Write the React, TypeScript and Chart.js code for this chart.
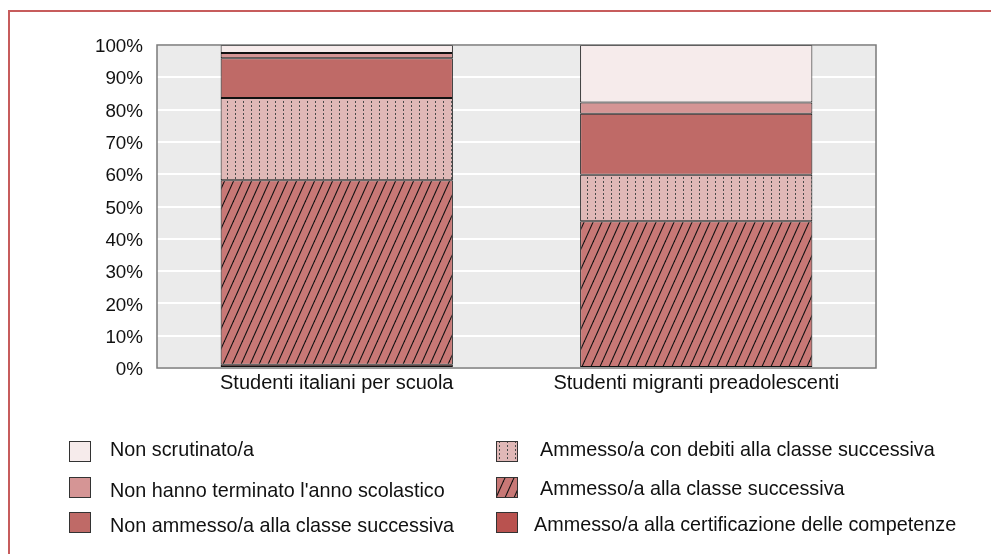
import React, { useEffect, useRef } from "react";
import { Chart, registerables } from "chart.js";

Chart.register(...registerables);

const categories = ["Studenti italiani per scuola", "Studenti migranti preadolescenti"];
const seriesLabels = [
  "Ammesso/a alla certificazione delle competenze",
  "Ammesso/a alla classe successiva",
  "Ammesso/a con debiti alla classe successiva",
  "Non ammesso/a alla classe successiva",
  "Non hanno terminato l'anno scolastico",
  "Non scrutinato/a",
];
const certificazione = [1.0, 0];
const ammesso = [57.1, 45.4];
const debiti = [25.5, 14.4];
const nonAmmesso = [12.3, 18.9];
const nonTerminato = [1.6, 3.5];
const nonScrutinato = [2.5, 17.8];
const yTicks = [0, 10, 20, 30, 40, 50, 60, 70, 80, 90, 100];

const FONT = "'Liberation Sans', Arial, Helvetica, sans-serif";

function hatchPattern(ctx: CanvasRenderingContext2D, bg: string) {
  const c = document.createElement("canvas");
  const w = 9, h = 20;
  c.width = w; c.height = h;
  const g = c.getContext("2d")!;
  g.fillStyle = bg;
  g.fillRect(0, 0, w, h);
  g.strokeStyle = "#111";
  g.lineWidth = 1.1;
  for (const off of [-w, 0, w]) {
    g.beginPath();
    g.moveTo(off, h);
    g.lineTo(off + w, 0);
    g.stroke();
  }
  return ctx.createPattern(c, "repeat")!;
}

function dotPattern(ctx: CanvasRenderingContext2D, bg: string) {
  const c = document.createElement("canvas");
  const w = 8, h = 4;
  c.width = w; c.height = h;
  const g = c.getContext("2d")!;
  g.fillStyle = bg;
  g.fillRect(0, 0, w, h);
  g.fillStyle = "#4a4a4a";
  g.fillRect(3, 1, 1, 2);
  return ctx.createPattern(c, "repeat")!;
}

export default function App() {
  const ref = useRef<HTMLCanvasElement>(null);
  useEffect(() => {
    const canvas = ref.current!;
    const ctx = canvas.getContext("2d")!;
    const fills: any[] = [
      "#b9524f",
      hatchPattern(ctx, "#c87876"),
      dotPattern(ctx, "#e0b8b7"),
      "#bf6a67",
      "#d59595",
      "#f6ebeb",
    ];
    const data = [certificazione, ammesso, debiti, nonAmmesso, nonTerminato, nonScrutinato];

    const bgPlugin = {
      id: "bgPlugin",
      beforeDraw(chart: any) {
        const { ctx, chartArea: a } = chart;
        ctx.save();
        ctx.fillStyle = "#ebebeb";
        ctx.fillRect(a.left, a.top, a.right - a.left, a.bottom - a.top);
        ctx.restore();
      },
      afterDraw(chart: any) {
        const { ctx, chartArea: a } = chart;
        ctx.save();
        ctx.strokeStyle = "#7a7a7a";
        ctx.lineWidth = 1.5;
        ctx.strokeRect(a.left, a.top, a.right - a.left, a.bottom - a.top);
        // legend
        const items = [
          { i: 5, x: 69, y: 441, tx: 110, ty: 451 },
          { i: 4, x: 69, y: 477, tx: 110, ty: 492 },
          { i: 3, x: 69, y: 512, tx: 110, ty: 527 },
          { i: 2, x: 496, y: 441, tx: 540, ty: 451 },
          { i: 1, x: 496, y: 477, tx: 540, ty: 490 },
          { i: 0, x: 496, y: 512, tx: 534, ty: 526 },
        ];
        ctx.font = `19.8px ${FONT}`;
        ctx.textBaseline = "middle";
        ctx.textAlign = "left";
        for (const it of items) {
          const ds = chart.data.datasets[it.i];
          ctx.fillStyle = ds.backgroundColor;
          ctx.fillRect(it.x, it.y, 22, 21);
          ctx.strokeStyle = "#333";
          ctx.lineWidth = 1;
          ctx.strokeRect(it.x + 0.5, it.y + 0.5, 21, 20);
          ctx.fillStyle = "#111";
          ctx.fillText(ds.label, it.tx, it.ty);
        }
        ctx.restore();
      },
    };

    const chart = new Chart(canvas, {
      type: "bar",
      data: {
        labels: categories,
        datasets: data.map((d, i) => ({
          label: seriesLabels[i],
          data: d,
          backgroundColor: fills[i],
          borderColor: "#111",
          borderWidth: 1,
          borderSkipped: false,
          categoryPercentage: 0.646,
          barPercentage: 1,
        })),
      },
      options: {
        responsive: false,
        animation: false,
        devicePixelRatio: 1,
        layout: { padding: { left: 0, top: 45, right: 115, bottom: 0 } },
        plugins: { legend: { display: false }, tooltip: { enabled: false } },
        scales: {
          x: {
            stacked: true,
            grid: { display: false, drawTicks: false },
            border: { display: false },
            ticks: { color: "#111", font: { size: 20, family: FONT }, padding: 3 },
            afterFit(s: any) { s.height = 186; },
          },
          y: {
            stacked: true,
            min: 0,
            max: 100,
            afterBuildTicks(s: any) { s.ticks = yTicks.map((v) => ({ value: v })); },
            grid: { color: "#ffffff", lineWidth: 2, drawTicks: false },
            border: { display: false },
            ticks: {
              color: "#111",
              font: { size: 18.8, family: FONT },
              padding: 14,
              labelOffset: 2,
              callback: (v: any) => v + "%",
            },
            afterFit(s: any) { s.width = 157; },
          },
        },
      },
      plugins: [bgPlugin],
    } as any);
    return () => chart.destroy();
  }, []);

  return (
    <div style={{ position: "fixed", left: 0, top: 0, width: 991, height: 554, overflow: "hidden", background: "#fff" }}>
      <div style={{ position: "absolute", left: 8, top: 10, width: 1200, height: 800, border: "2px solid #c75c5c" }} />
      <canvas ref={ref} width={991} height={554} style={{ position: "absolute", left: 0, top: 0, width: 991, height: 554 }} />
    </div>
  );
}
